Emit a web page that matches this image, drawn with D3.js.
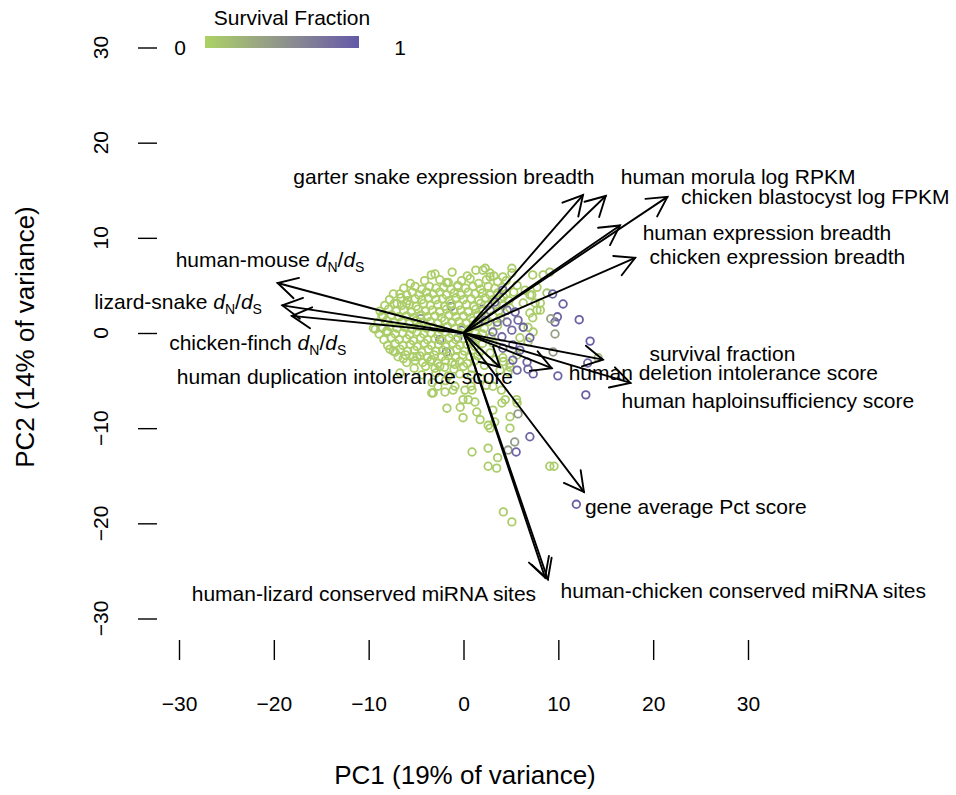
<!DOCTYPE html>
<html><head><meta charset="utf-8">
<script src="https://cdn.jsdelivr.net/npm/d3@7"></script>
<style>
html,body{margin:0;padding:0;background:#fff;}
text{font-family:"Liberation Sans",Arial,Helvetica,sans-serif;fill:#000;}
</style></head>
<body><svg id="chart" width="956" height="795"></svg>
<script>
// ---------- data ----------
const xTicks = [-30,-20,-10,0,10,20,30];
const yTicks = [-30,-20,-10,0,10,20,30];
const xTitle = "PC1 (19% of variance)";
const yTitle = "PC2 (14% of variance)";
const legendTitle = "Survival Fraction";

// faint purple points hidden inside the core (drawn first)
const innerPoints = [
  [-0.6,-0.5,0.8],[-1.3,2.8,0.6],[-2.5,-0.7,0.7],[-1.8,-2.0,0.7],[-4.5,1.5,0.5],
  [1.5,1.0,0.8],[2.0,2.5,0.8],[-0.2,0.3,0.9],[0.8,-1.0,0.7]
];
// dense core (PC1, PC2), survival fraction ~0
const corePoints = [
  [-3.0,6.2],[-1.2,6.4],[0.4,6.0],[1.3,6.6],[2.8,6.3],
  [-5.6,5.2],[-4.1,5.5],[-2.5,5.6],[-1.6,5.3],[-0.2,5.5],[0.7,5.7],[1.6,5.2],[2.4,5.6],[3.6,5.4],[4.5,5.5],
  [-6.3,4.7],[-5.1,4.9],[-4.4,4.6],[-3.6,4.9],[-2.9,4.7],[-2.1,4.8],[-1.3,4.6],[-0.6,4.9],[0.2,4.7],[1.0,4.9],[1.8,4.6],[2.6,4.9],[3.3,4.7],[4.1,4.8],
  [-7.4,4.1],[-6.0,4.0],[-5.4,4.3],[-4.7,4.0],[-3.9,4.3],[-3.2,4.1],[-2.5,4.3],[-1.8,4.0],[-1.0,4.2],[-0.3,4.0],[0.5,4.3],[1.2,4.1],[2.0,4.2],[2.8,4.0],[3.6,4.2],[4.5,4.1],[5.3,4.3],
  [-7.8,3.5],[-6.6,3.7],[-5.9,3.4],[-5.1,3.6],[-4.4,3.5],[-3.7,3.7],[-2.9,3.5],[-2.2,3.6],[-1.5,3.4],[-0.8,3.7],[0.0,3.5],[0.8,3.6],[1.6,3.4],[2.3,3.7],[3.1,3.5],[3.9,3.6],[4.8,3.4],
  [-8.3,2.9],[-7.3,3.1],[-6.5,2.9],[-5.7,3.0],[-5.0,2.8],[-4.2,3.1],[-3.5,2.9],[-2.7,3.0],[-2.0,2.8],[-1.3,3.1],[-0.5,2.9],[0.3,3.0],[1.1,2.8],[1.8,3.1],[2.6,2.9],[3.4,3.0],[4.2,2.9],
  [-8.8,2.3],[-7.9,2.5],[-7.1,2.3],[-6.3,2.4],[-5.5,2.2],[-4.8,2.5],[-4.0,2.3],[-3.3,2.4],[-2.5,2.2],[-1.8,2.5],[-1.0,2.3],[-0.3,2.4],[0.5,2.2],[1.3,2.5],[2.0,2.3],[2.8,2.4],[3.7,2.3],
  [-8.5,1.7],[-7.6,1.9],[-6.8,1.7],[-6.0,1.8],[-5.3,1.6],[-4.5,1.9],[-3.8,1.7],[-3.0,1.8],[-2.3,1.6],[-1.5,1.9],[-0.8,1.7],[0.0,1.8],[0.8,1.6],[1.5,1.9],[2.3,1.7],[3.1,1.8],[3.9,1.6],
  [-9.0,1.1],[-8.1,1.3],[-7.3,1.1],[-6.5,1.2],[-5.7,1.0],[-5.0,1.3],[-4.2,1.1],[-3.5,1.2],[-2.7,1.0],[-2.0,1.3],[-1.2,1.1],[-0.5,1.2],[0.3,1.0],[1.0,1.3],[1.8,1.1],[2.6,1.2],
  [-8.6,0.5],[-7.8,0.7],[-7.0,0.5],[-6.2,0.6],[-5.4,0.4],[-4.7,0.7],[-3.9,0.5],[-3.2,0.6],[-2.4,0.4],[-1.7,0.7],[-0.9,0.5],[-0.2,0.6],[0.6,0.4],[1.4,0.7],[2.2,0.5],
  [-8.9,-0.1],[-8.0,0.1],[-7.2,-0.1],[-6.4,0.0],[-5.7,-0.2],[-4.9,0.1],[-4.2,-0.1],[-3.4,0.0],[-2.7,-0.2],[-1.9,0.1],[-1.2,-0.1],[-0.4,0.0],[0.4,-0.2],[1.2,0.1],[2.0,-0.1],
  [-8.4,-0.7],[-7.6,-0.5],[-6.8,-0.7],[-6.0,-0.6],[-5.3,-0.8],[-4.5,-0.5],[-3.8,-0.7],[-3.0,-0.6],[-2.3,-0.8],[-1.5,-0.5],[-0.8,-0.7],[0.0,-0.6],[0.8,-0.8],[1.6,-0.5],
  [-8.0,-1.3],[-7.2,-1.1],[-6.4,-1.3],[-5.6,-1.2],[-4.9,-1.4],[-4.1,-1.1],[-3.4,-1.3],[-2.6,-1.2],[-1.9,-1.4],[-1.1,-1.1],[-0.4,-1.3],[0.4,-1.2],[1.2,-1.4],[2.0,-1.1],
  [-7.4,-1.9],[-6.7,-1.7],[-5.9,-1.9],[-5.2,-1.8],[-4.4,-2.0],[-3.7,-1.7],[-2.9,-1.9],[-2.2,-1.8],[-1.4,-2.0],[-0.7,-1.7],[0.1,-1.9],[0.9,-1.8],[1.7,-2.0],
  [-6.9,-2.5],[-6.1,-2.3],[-5.3,-2.5],[-4.6,-2.4],[-3.8,-2.6],[-3.1,-2.3],[-2.3,-2.5],[-1.6,-2.4],[-0.8,-2.6],[-0.1,-2.3],[0.7,-2.5],[1.5,-2.4],
  [-6.0,-3.1],[-5.1,-2.9],[-4.3,-3.1],[-3.5,-3.0],[-2.7,-3.2],[-1.9,-2.9],[-1.2,-3.1],[-0.4,-3.0],[0.4,-3.2],[1.2,-2.9],
  [-5.2,-3.7],[-4.0,-3.5],[-3.0,-3.7],[-2.0,-3.6],[-1.0,-3.8],[0.0,-3.5],[0.9,-3.7],
  [-4.4,-4.4],[-2.9,-4.2],[-1.6,-4.5],[-0.4,-4.3],[0.8,-4.4]
];
// sparser points around the core and in the tail: [PC1, PC2, survival fraction]
const outerPoints = [
  [-3.4,6.1,0.05],[-1.8,5.3,0.05],[-0.6,5.0,0.05],[2.3,6.8,0.05],[3.2,6.0,0.05],
  [-6.7,4.1,0.05],[-7.0,3.1,0.05],[-6.0,3.1,0.05],[-8.6,1.8,0.05],[-9.3,0.4,0.05],[-9.5,0.5,0.05],[-8.1,0.2,0.05],
  [-7.75,-1.7,0.05],[-7.2,-2.0,0.05],[-6.35,-2.7,0.05],[-4.9,-2.5,0.05],[-3.35,-2.8,0.05],[-2.5,-3.5,0.05],[-0.9,-3.3,0.05],
  [-6.7,-4.2,0.05],[-3.35,-6.3,0.05],[-2.7,-5.6,0.05],
  [2.05,6.6,0.05],[2.8,5.9,0.05],[4.15,5.9,0.05],[5.1,6.3,0.05],[5.65,5.0,0.05],[5.1,6.8,0.05],[7.3,6.1,0.05],[9.1,6.4,0.1],[8.4,6.1,0.05],
  [7.75,4.8,0.05],[8.8,4.2,0.1],[7.0,4.0,0.05],[7.55,3.15,0.05],[8.1,2.4,0.05],[6.3,3.15,0.05],[7.3,1.6,0.05],[6.8,0.6,0.05],
  [6.5,4.5,0.05],[7.2,4.0,0.05],[8.1,3.15,0.05],[7.75,2.4,0.05],[7.0,2.1,0.05],[6.3,0.6,0.05],[7.35,0.1,0.05],[6.8,-0.95,0.05],
  [5.95,-0.5,0.05],[5.65,-2.3,0.05],[4.15,-2.6,0.05],[4.9,-3.6,0.05],[3.85,-3.9,0.05],[3.1,-1.05,0.05],[2.8,-2.1,0.05],
  [4.2,3.8,0.05],[4.9,2.6,0.05],[3.6,0.8,0.05],[2.9,-0.4,0.05],[3.4,-2.8,0.05],[2.2,-3.4,0.05],
  // tail
  [-3.2,-6.3,0.05],[-1.95,-6.2,0.05],[-1.1,-6.0,0.05],[0.15,-6.0,0.05],[0.9,-6.0,0.05],[-1.75,-7.9,0.05],[-0.35,-7.8,0.05],
  [-0.05,-7.0,0.05],[0.5,-7.0,0.05],[1.2,-7.25,0.05],[1.4,-8.3,0.05],[-0.05,-8.9,0.05],[1.75,-9.1,0.05],[2.6,-9.7,0.05],
  [2.8,-10.0,0.05],[3.3,-9.35,0.05],[3.1,-8.1,0.05],[4.05,-7.35,0.05],[4.4,-7.0,0.05],[4.9,-8.8,0.05],[5.75,-8.5,0.45],
  [4.9,-10.0,0.05],[5.65,-7.35,0.05],[0.9,-12.5,0.05],[2.6,-12.1,0.05],[3.6,-13.1,0.05],[2.6,-14.0,0.05],[3.5,-14.2,0.05],
  [4.7,-12.3,0.45],[5.4,-11.45,0.45],[5.55,-12.5,0.9],[7.0,-10.9,0.9],[9.1,-14.0,0.05],[9.55,-14.0,0.05],
  [4.2,-18.8,0.05],[5.1,-19.85,0.05],[12.9,-6.5,0.95],[11.9,-18.0,0.95],
  [-3.3,-5.2,0.05],[-0.9,-5.6,0.05],[0.8,-5.6,0.05],[2.4,-5.5,0.05],[4.0,-6.0,0.05],[4.7,-4.1,0.05],[4.9,-3.2,0.05],
  [4.2,-3.0,0.05],[3.1,-5.6,0.05],[5.6,-7.0,0.05],[1.9,-4.8,0.05],[-1.9,-5.0,0.05],
  // purple / grey right-hand points
  [9.4,4.1,0.9],[10.5,3.05,0.95],[9.9,1.7,0.9],[9.65,1.15,0.85],[9.2,1.5,0.4],[12.2,1.4,0.95],[9.65,-0.1,0.4],
  [13.35,-0.85,0.95],[9.45,-2.0,0.45],[14.2,-2.6,0.2],[13.1,-3.15,0.9],[6.8,-3.8,0.9],[7.35,-4.3,0.9],[9.95,-4.5,0.9],
  [4.15,4.5,0.85],[3.3,3.25,0.8],[4.6,2.4,0.85],[5.45,2.2,0.9],[5.75,1.35,0.85],[4.6,1.15,0.8],[3.55,1.15,0.75],
  [5.1,0.3,0.85],[6.3,0.6,0.9],[3.1,0.1,0.8],[4.05,-0.4,0.85],[7.0,-0.5,0.9],[5.2,-1.25,0.85],[5.95,-1.8,0.9],
  [4.15,-1.6,0.8],[5.2,-2.85,0.9],[6.7,-3.05,0.9],[5.65,-3.9,0.85],[2.8,2.4,0.7],[2.3,1.35,0.7]
];

// loading arrows: name, tip PC1, tip PC2, label PC1, label PC2
const arrowNames = ["garter snake expression breadth","human morula log RPKM","chicken blastocyst log FPKM",
  "human expression breadth","chicken expression breadth","human-mouse dN/dS","lizard-snake dN/dS","chicken-finch dN/dS",
  "human duplication intolerance score","survival fraction","human deletion intolerance score","human haploinsufficiency score",
  "gene average Pct score","human-chicken conserved miRNA sites","human-lizard conserved miRNA sites"];
const arrowX = [12.6,15.0,21.5,16.5,18.1,-19.6,-19.1,-18.1,3.85,14.7,9.3,17.6,12.7,8.9,8.6];
const arrowY = [14.5,14.4,14.3,11.3,7.9,5.25,2.9,1.8,-3.6,-2.8,-3.7,-5.25,-16.7,-25.9,-25.7];
const labelX = [-2.06,28.96,37.1,32.0,33.1,-20.4,-30.1,-21.7,-12.5,27.3,27.4,32.1,24.5,29.5,-10.5];
const labelY = [16.4,16.4,14.3,10.6,8.0,7.7,3.3,-0.95,-4.6,-2.2,-4.1,-7.1,-18.2,-27.0,-27.4];

// ---------- drawing ----------
const svg = d3.select("#chart");
const x = d3.scaleLinear().domain([-30,30]).range([179,748]);
const y = d3.scaleLinear().domain([-30,30]).range([618.5,47.5]);
const color = d3.scaleLinear().domain([0,1]).range(["#acd264","#6259a8"]).interpolate(d3.interpolateLab);

// axes (ticks only, no axis line)
const xAxis = svg.append("g").attr("transform","translate(0,640)")
  .call(d3.axisBottom(x).tickValues(xTicks).tickSize(20).tickPadding(36).tickFormat(d=>d<0?"\u2212"+Math.abs(d):d));
xAxis.select(".domain").remove();
xAxis.selectAll("line").attr("stroke","#000").attr("stroke-width",1.4);
xAxis.selectAll("text").attr("font-size",21).attr("font-family","Liberation Sans, Arial, sans-serif");

const yAxis = svg.append("g").attr("transform","translate(138,0)")
  .call(d3.axisRight(y).tickValues(yTicks).tickSize(19).tickFormat(""));
yAxis.select(".domain").remove();
yAxis.selectAll("line").attr("stroke","#000").attr("stroke-width",1.4);
svg.append("g").selectAll("text").data(yTicks).join("text")
  .attr("transform",d=>`translate(100,${y(d)}) rotate(-90)`)
  .attr("text-anchor","middle").attr("dy","0.36em").attr("font-size",21)
  .text(d=>d<0?"\u2212"+Math.abs(d):d);

// axis titles
svg.append("text").attr("x",465).attr("y",775).attr("dy","0.36em").attr("text-anchor","middle")
  .attr("font-size",26).text(xTitle);
svg.append("text").attr("transform","translate(25,337) rotate(-90)").attr("dy","0.36em")
  .attr("text-anchor","middle").attr("font-size",26).text(yTitle);

// points
const allPts = innerPoints.concat(corePoints.map(p=>[p[0],p[1],0.03]), outerPoints);
svg.append("g").selectAll("circle").data(allPts).join("circle")
  .attr("cx",d=>x(d[0])).attr("cy",d=>y(d[1])).attr("r",3.8)
  .attr("fill","none").attr("stroke",d=>color(d[2])).attr("stroke-width",1.8);

// arrows
const ag = svg.append("g").attr("stroke","#000").attr("stroke-width",1.9).attr("fill","none")
  .attr("stroke-linecap","round");
const headLen = 22, headAng = Math.PI/6.3;
arrowNames.forEach((n,i)=>{
  const x0 = x(0), y0 = y(0), x1 = x(arrowX[i]), y1 = y(arrowY[i]);
  const a = Math.atan2(y1-y0, x1-x0);
  ag.append("line").attr("x1",x0).attr("y1",y0).attr("x2",x1).attr("y2",y1);
  const p1 = [x1 - headLen*Math.cos(a-headAng), y1 - headLen*Math.sin(a-headAng)];
  const p2 = [x1 - headLen*Math.cos(a+headAng), y1 - headLen*Math.sin(a+headAng)];
  ag.append("path").attr("d",`M${p1[0]},${p1[1]}L${x1},${y1}L${p2[0]},${p2[1]}`);
});

// arrow labels
const lg = svg.append("g");
arrowNames.forEach((n,i)=>{
  const t = lg.append("text").attr("x",x(labelX[i])).attr("y",y(labelY[i])).attr("dy","0.36em")
    .attr("text-anchor","middle").attr("font-size",21);
  const m = n.match(/^(.*) dN\/dS$/);
  if (m) {
    t.append("tspan").text(m[1]+" ");
    t.append("tspan").attr("font-style","italic").text("d");
    t.append("tspan").attr("font-size",14).attr("dy",5).text("N");
    t.append("tspan").attr("dy",-5).text("/");
    t.append("tspan").attr("font-style","italic").text("d");
    t.append("tspan").attr("font-size",14).attr("dy",5).text("S");
  } else t.text(n);
});

// legend
const defs = svg.append("defs");
const grad = defs.append("linearGradient").attr("id","sfgrad");
d3.range(0,1.0001,0.1).forEach(v=>grad.append("stop").attr("offset",v).attr("stop-color",color(v)));
svg.append("rect").attr("x",205).attr("y",36).attr("width",154).attr("height",12).attr("fill","url(#sfgrad)");
svg.append("text").attr("x",292).attr("y",17).attr("dy","0.36em").attr("text-anchor","middle").attr("font-size",21).text(legendTitle);
svg.append("text").attr("x",180).attr("y",47).attr("dy","0.36em").attr("text-anchor","middle").attr("font-size",21).text("0");
svg.append("text").attr("x",400).attr("y",47).attr("dy","0.36em").attr("text-anchor","middle").attr("font-size",21).text("1");
</script></body></html>
